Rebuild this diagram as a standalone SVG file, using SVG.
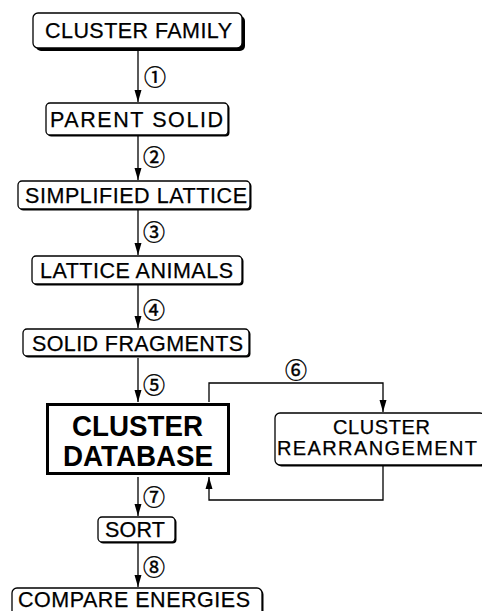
<svg xmlns="http://www.w3.org/2000/svg" width="482" height="611" viewBox="0 0 482 611">
<defs>
<style>
.bx{fill:#fff;stroke:#000;stroke-width:1.3}
.sh{fill:#000}
.t{font-family:"Liberation Sans",Arial,sans-serif;font-size:21.5px;fill:#000;stroke:#000;stroke-width:0.25;text-anchor:middle}
.s{font-size:20px}
.b{font-family:"Liberation Sans",Arial,sans-serif;font-size:29px;font-weight:bold;fill:#000;text-anchor:middle}
.n{font-family:"Noto Sans CJK JP","DejaVu Sans",sans-serif;font-size:22px;fill:#000;stroke:#000;stroke-width:0.4;text-anchor:middle;dominant-baseline:central}
.ln{fill:none;stroke:#000;stroke-width:1.3}
</style>
<marker id="ahv" viewBox="0 0 12 8" refX="12" refY="4" markerWidth="12" markerHeight="8" markerUnits="userSpaceOnUse" orient="auto">
<path d="M0,0.5 L12,4 L0,7.5 Z" fill="#000"/>
</marker>
</defs>
<rect width="482" height="611" fill="#fff"/>
<g id="connectors">
<line class="ln" x1="138" y1="50" x2="138" y2="102" marker-end="url(#ahv)"/>
<line class="ln" x1="138" y1="136" x2="138" y2="180" marker-end="url(#ahv)"/>
<line class="ln" x1="138" y1="210" x2="138" y2="255" marker-end="url(#ahv)"/>
<line class="ln" x1="138" y1="285" x2="138" y2="328" marker-end="url(#ahv)"/>
<line class="ln" x1="138" y1="358" x2="138" y2="402" marker-end="url(#ahv)"/>
<polyline class="ln" points="209,402 209,383 383,383 383,412" marker-end="url(#ahv)"/>
<polyline class="ln" points="383,466 383,500 209,500 209,477" marker-end="url(#ahv)"/>
<line class="ln" x1="138" y1="477" x2="138" y2="516" marker-end="url(#ahv)"/>
<line class="ln" x1="138" y1="543" x2="138" y2="587" marker-end="url(#ahv)"/>
<text class="n" x="155" y="75">①</text>
<text class="n" x="154" y="155">②</text>
<text class="n" x="154" y="230">③</text>
<text class="n" x="154" y="308">④</text>
<text class="n" x="154" y="383">⑤</text>
<text class="n" x="296" y="368">⑥</text>
<text class="n" x="154" y="495">⑦</text>
<text class="n" x="154" y="565">⑧</text>
</g>
<g id="cluster-family">
<rect class="sh" x="36" y="16" width="209" height="35" rx="5"/>
<rect class="bx" x="33" y="13" width="209" height="35" rx="5"/>
<text class="t" x="138.5" y="38" textLength="187" lengthAdjust="spacing">CLUSTER FAMILY</text>
</g>
<g id="parent-solid">
<rect class="sh" x="47.5" y="104.5" width="182" height="32" rx="4"/>
<rect class="bx" x="46" y="103" width="182" height="32" rx="4"/>
<text class="t" x="136.5" y="127" textLength="173" lengthAdjust="spacing">PARENT SOLID</text>
</g>
<g id="simplified-lattice">
<rect class="sh" x="19.5" y="182.5" width="232" height="28" rx="4"/>
<rect class="bx" x="18" y="181" width="232" height="28" rx="4"/>
<text class="t" x="136" y="203" textLength="222" lengthAdjust="spacing">SIMPLIFIED LATTICE</text>
</g>
<g id="lattice-animals">
<rect class="sh" x="33.5" y="257.5" width="210" height="28" rx="4"/>
<rect class="bx" x="32" y="256" width="210" height="28" rx="4"/>
<text class="t" x="136.5" y="278" textLength="193" lengthAdjust="spacing">LATTICE ANIMALS</text>
</g>
<g id="solid-fragments">
<rect class="sh" x="24.5" y="330.5" width="226" height="27" rx="4"/>
<rect class="bx" x="23" y="329" width="226" height="27" rx="4"/>
<text class="t" x="137.5" y="351" textLength="211" lengthAdjust="spacing">SOLID FRAGMENTS</text>
</g>
<g id="cluster-database">
<rect x="47.5" y="404.5" width="181" height="69" fill="#fff" stroke="#000" stroke-width="3"/>
<text class="b" x="137.5" y="436" textLength="131" lengthAdjust="spacingAndGlyphs">CLUSTER</text>
<text class="b" x="138" y="466" textLength="150" lengthAdjust="spacingAndGlyphs">DATABASE</text>
</g>
<g id="cluster-rearrangement">
<rect class="sh" x="276.5" y="414.5" width="210" height="52" rx="5"/>
<rect class="bx" x="275" y="413" width="210" height="52" rx="5"/>
<text class="t s" x="381.5" y="434" textLength="97" lengthAdjust="spacing">CLUSTER</text>
<text class="t s" x="377" y="455" textLength="200" lengthAdjust="spacing">REARRANGEMENT</text>
</g>
<g id="sort">
<rect class="sh" x="99.5" y="518.5" width="77" height="25" rx="4"/>
<rect class="bx" x="98" y="517" width="77" height="25" rx="4"/>
<text class="t" x="135" y="537" textLength="60" lengthAdjust="spacing">SORT</text>
</g>
<g id="compare-energies">
<rect class="sh" x="13.5" y="589.5" width="250" height="30" rx="5"/>
<rect class="bx" x="12" y="588" width="250" height="30" rx="5"/>
<text class="t" x="134" y="607" textLength="232" lengthAdjust="spacing">COMPARE ENERGIES</text>
</g>
</svg>
